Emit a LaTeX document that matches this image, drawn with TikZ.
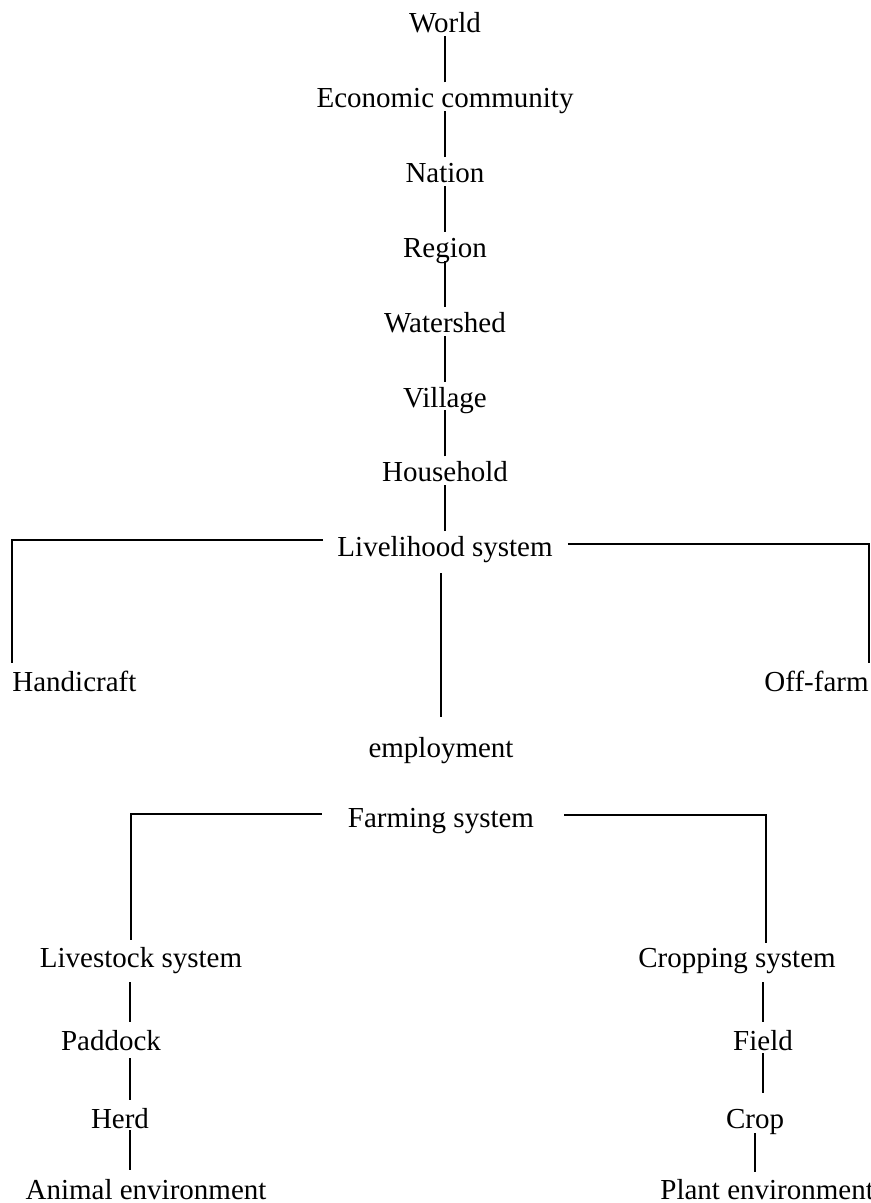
\documentclass[tikz,border=0pt]{standalone}
\usepackage{fontspec}
\setmainfont{Liberation Serif}
\usetikzlibrary{positioning}

\begin{document}
\begin{tikzpicture}[x=0.5pt, y=-0.5pt, node distance=27.5pt, lvl/.style={inner sep=0pt, text height=9.5pt, text depth=0pt, font=\fontsize{14.5}{17}\selectfont}, chain/.style={line width=0.9pt, shorten <=3pt, shorten >=1.5pt}, link/.style={line width=0.9pt}]
	\useasboundingbox (0,0) rectangle (871,1203);
	\node[lvl, anchor=base] (world) at (445,33) {World};
	\node[lvl] (econ) [below=of world] {Economic community} edge[chain] (world);
	\node[lvl] (nation) [below=of econ] {Nation} edge[chain] (econ);
	\node[lvl] (region) [below=of nation] {Region} edge[chain] (nation);
	\node[lvl] (wshed) [below=of region] {Watershed} edge[chain] (region);
	\node[lvl] (village) [below=of wshed] {Village} edge[chain] (wshed);
	\node[lvl] (house) [below=of village] {Household} edge[chain] (village);
	\node[lvl] (live) [below=of house] {Livelihood system} edge[chain] (house);
	\node[lvl, anchor=base west] (hand) at (12,691) {Handicraft}; \node[lvl, anchor=base east] (off) at (869,691) {Off-farm};
	\node[lvl, anchor=base] (empl) at (441,757) {employment};
	\draw[link, shorten >=4.5pt] ([shift={(-7pt,3.75pt)}]live.west) -| (hand.north west);
	\draw[link, shorten >=4.5pt] ([shift={(7.5pt,1.75pt)}]live.east) -| (off.north east);
	\draw[link, shorten <=8pt, shorten >=10.5pt] (empl.north |- live.south) -- (empl.north);
	\node[lvl, anchor=base] (farm) at (441,827) {Farming system};
	\node[lvl, anchor=base] (lsys) at (141,967) {Livestock system}; \node[lvl, anchor=base] (csys) at (737,967) {Cropping system};
	\node[lvl, anchor=base] (padd) at (111,1050) {Paddock}; \node[lvl, anchor=base] (field) at (763,1050) {Field};
	\node[lvl, anchor=base] (herd) at (120,1128) {Herd}; \node[lvl, anchor=base] (crop) at (755,1128) {Crop};
	\node[lvl, anchor=base] (anim) at (146,1199) {Animal environment}; \node[lvl, anchor=base west] (plant) at (660,1199) {Plant environment};
	\draw[link, shorten >=4pt] ([shift={(-13pt,1.75pt)}]farm.west) -| ([xshift=-5pt]lsys.north);
	\draw[link, shorten >=2.5pt] ([shift={(15pt,1.25pt)}]farm.east) -| ([xshift=14.5pt]csys.north);
	\draw[link, shorten <=7.5pt, shorten >=4.5pt] ([xshift=-5.5pt]lsys.south) -- ([xshift=-5.5pt]lsys.south |- padd.north);
	\draw[link, shorten <=4pt, shorten >=4.5pt] ([xshift=-5.5pt]lsys.south |- padd.south) -- ([xshift=-5.5pt]lsys.south |- herd.north);
	\draw[link, shorten <=1pt, shorten >=5pt] ([xshift=-5.5pt]lsys.south |- herd.south) -- ([xshift=-5.5pt]lsys.south |- anim.north);
	\draw[link, shorten <=7.5pt, shorten >=4.5pt] (field.north |- csys.south) -- (field.north);
	\draw[link, shorten <=1.5pt, shorten >=8pt] (field.south) -- (field.south |- crop.north);
	\draw[link, shorten <=2.5pt, shorten >=4pt] (crop.south) -- (crop.south |- plant.north);
\end{tikzpicture}
\end{document}
